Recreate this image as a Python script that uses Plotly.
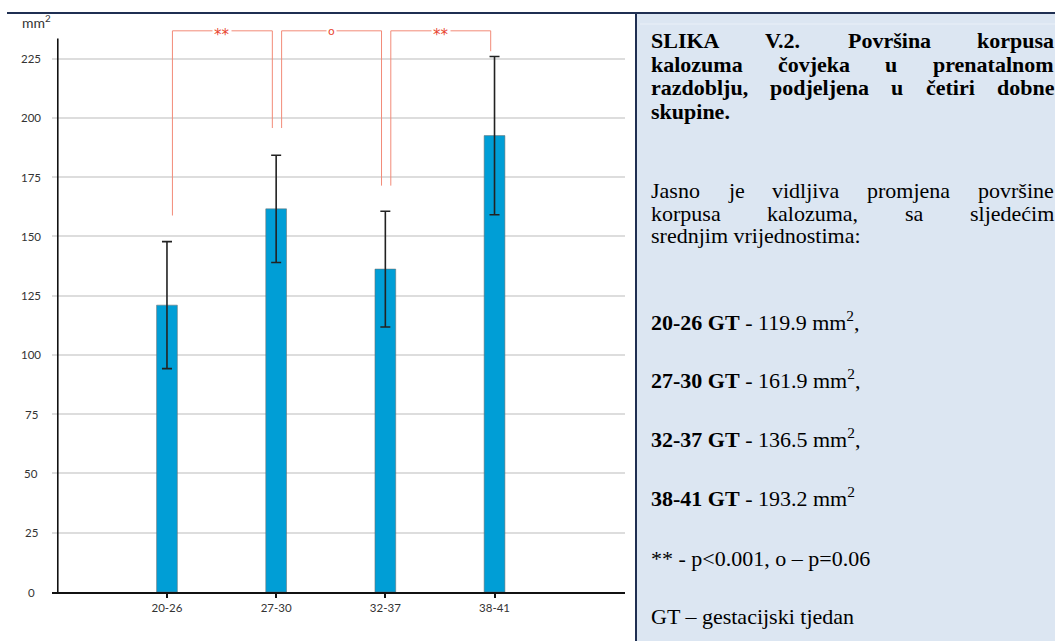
import plotly.graph_objects as go

# ---------------- data ----------------
categories = ["20-26", "27-30", "32-37", "38-41"]
mean_area = [121.0, 161.6, 136.2, 192.5]
sd_area = [26.8, 22.6, 24.4, 33.4]
y_ticks = [0, 25, 50, 75, 100, 125, 150, 175, 200, 225]

# significance brackets: (left category index, right category index, label)
bracket_pairs = [(0, 1), (1, 2), (2, 3)]
bracket_labels = ["**", "o", "**"]
bracket_left_bottom = [158.8, 195.7, 171.4]
bracket_right_bottom = [195.7, 171.4, 228.1]
bracket_top = 236.7

# caption text
title_lines = [["SLIKA", "V.2.", "Površina", "korpusa"],
               ["kalozuma", "čovjeka", "u", "prenatalnom"],
               ["razdoblju,", "podjeljena", "u", "četiri", "dobne"]]
title_last = "skupine."
para_lines = [["Jasno", "je", "vidljiva", "promjena", "površine"],
              ["korpusa", "kalozuma,", "sa", "sljedećim"]]
para_last = "srednjim vrijednostima:"
value_groups = ["20-26 GT", "27-30 GT", "32-37 GT", "38-41 GT"]
value_texts = ["119.9", "161.9", "136.5", "193.2"]
note_sig = "** - p<0.001, o – p=0.06"
note_gt = "GT – gestacijski tjedan"

# ---------------- layout geometry ----------------
W, H = 1055, 641
L, R, T, B = 52, 625, 23, 592
Y_MAX = 240.0
X_MIN, X_MAX = -1.053, 4.195


def px_x(px):
    return (px - L) / (R - L)


def px_y(py):
    return (B - py) / (B - T)


# Times (Liberation Serif) advance widths, per 1000 em
BOLD_W = {"A": 722, "I": 389, "K": 778, "L": 667, "P": 611, "S": 556, "V": 722,
          "a": 500, "b": 556, "c": 444, "č": 444, "d": 556, "e": 444, "i": 278,
          "j": 333, "k": 556, "l": 278, "m": 833, "n": 556, "o": 500, "p": 556,
          "r": 444, "s": 389, "š": 389, "t": 333, "u": 556, "v": 500, "z": 444,
          ",": 250, ".": 250, "2": 500}
REG_W = {"J": 389, "a": 444, "c": 444, "ć": 444, "d": 500, "e": 444, "i": 278,
         "j": 278, "k": 500, "l": 278, "m": 778, "n": 500, "o": 500, "p": 500,
         "r": 333, "s": 389, "š": 389, "u": 500, "v": 500, "z": 444, ",": 250,
         ":": 278, "g": 500, "t": 278}

FS = 22
TXT_X0, TXT_X1 = 650, 1053
SERIF = "Liberation Serif, Times New Roman, serif"

fig = go.Figure()

fig.add_trace(go.Bar(
    x=categories, y=mean_area, width=0.19,
    marker=dict(color="#009ed6", line=dict(color="rgba(110,110,110,0.55)", width=1)),
    error_y=dict(type="data", array=sd_area, visible=True,
                 color="#222222", thickness=1.6, width=5),
    showlegend=False, hoverinfo="skip",
))

shapes = []
annotations = []

# right caption panel
shapes.append(dict(type="rect", xref="paper", yref="paper",
                   x0=px_x(636), x1=px_x(1065), y0=px_y(650), y1=px_y(13),
                   fillcolor="#dce6f2", line=dict(width=0), layer="below"))
shapes.append(dict(type="line", xref="paper", yref="paper",
                   x0=px_x(640), x1=px_x(1065), y0=px_y(24), y1=px_y(24),
                   line=dict(color="#eaf0f8", width=1)))
shapes.append(dict(type="line", xref="paper", yref="paper",
                   x0=px_x(7), x1=px_x(1065), y0=px_y(13), y1=px_y(13),
                   line=dict(color="#1f2f52", width=2)))
shapes.append(dict(type="line", xref="paper", yref="paper",
                   x0=px_x(636), x1=px_x(636), y0=px_y(13), y1=px_y(650),
                   line=dict(color="#1f2f52", width=2)))

# y axis line
shapes.append(dict(type="line", xref="x", yref="y", x0=-1.0, x1=-1.0, y0=0, y1=233.5,
                   line=dict(color="#111111", width=1.6)))

# significance brackets
for (i, j), lab, lb, rb in zip(bracket_pairs, bracket_labels,
                               bracket_left_bottom, bracket_right_bottom):
    xl, xr = i + 0.05, j - 0.035
    col = "#f28b78"
    shapes.append(dict(type="line", xref="x", yref="y", x0=xl, x1=xl, y0=lb, y1=bracket_top,
                       line=dict(color=col, width=1)))
    shapes.append(dict(type="line", xref="x", yref="y", x0=xr, x1=xr, y0=rb, y1=bracket_top,
                       line=dict(color=col, width=1)))
    shapes.append(dict(type="line", xref="x", yref="y", x0=xl, x1=xr, y0=bracket_top, y1=bracket_top,
                       line=dict(color=col, width=1)))
    star = lab == "**"
    annotations.append(dict(x=(xl + xr) / 2, y=bracket_top, xref="x", yref="y",
                            text=lab, showarrow=False, bgcolor="white", borderpad=1,
                            yshift=-4 if star else -1,
                            font=dict(family="DejaVu Sans, sans-serif",
                                      size=15 if star else 11, color="#e8452f")))

# y tick labels (centred)
for v in y_ticks:
    annotations.append(dict(x=px_x(31), y=v, xref="paper", yref="y", text=str(v),
                            showarrow=False, xanchor="center", yanchor="middle",
                            font=dict(family="Lato, sans-serif", size=11.5, color="#333333")))
annotations.append(dict(x=px_x(36), y=px_y(21), xref="paper", yref="paper",
                        text="mm<sup>2</sup>", showarrow=False, xanchor="center",
                        yanchor="middle",
                        font=dict(family="Lato, sans-serif", size=14, color="#333333")))


def word_w(word, table):
    return sum(table.get(c, 500) for c in word) * FS / 1000.0


def add_justified(words, y_px, bold):
    table = BOLD_W if bold else REG_W
    widths = [word_w(w, table) for w in words]
    gap = (TXT_X1 - TXT_X0 - sum(widths)) / (len(words) - 1)
    x = TXT_X0
    for w, wd in zip(words, widths):
        txt = f"<b>{w}</b>" if bold else w
        annotations.append(dict(x=px_x(x), y=px_y(y_px), xref="paper", yref="paper",
                                text=txt, showarrow=False, xanchor="left", yanchor="middle",
                                borderpad=0,
                                font=dict(family=SERIF, size=FS, color="#000000")))
        x += wd + gap


def add_line(text, y_px):
    annotations.append(dict(x=px_x(TXT_X0), y=px_y(y_px), xref="paper", yref="paper",
                            text=text, showarrow=False, xanchor="left", yanchor="middle",
                            borderpad=0,
                            font=dict(family=SERIF, size=FS, color="#000000")))


title_y = [40, 64, 88]
for words, yy in zip(title_lines, title_y):
    add_justified(words, yy, True)
add_line(f"<b>{title_last}</b>", 111)

para_y = [190, 213]
for words, yy in zip(para_lines, para_y):
    add_justified(words, yy, False)
add_line(para_last, 236)

value_y = [321, 379, 438, 497]
for k, (g, v, yy) in enumerate(zip(value_groups, value_texts, value_y)):
    tail = "," if k < len(value_groups) - 1 else ""
    add_line(f"<b>{g}</b> - {v} mm<sup>2</sup>{tail}", yy)
add_line(note_sig, 558)
add_line(note_gt, 616)

fig.update_layout(
    width=W, height=H,
    margin=dict(l=L, r=W - R, t=T, b=H - B, pad=0),
    paper_bgcolor="white", plot_bgcolor="white",
    shapes=shapes, annotations=annotations,
    xaxis=dict(type="category", categoryorder="array", categoryarray=categories,
               range=[X_MIN, X_MAX], showgrid=False, zeroline=False,
               showline=True, linecolor="#111111", linewidth=1.6,
               ticks="outside", ticklen=4, tickwidth=1.5, tickcolor="#111111",
               tickfont=dict(family="Lato, sans-serif", size=11.5, color="#333333")),
    yaxis=dict(range=[0, Y_MAX], tickvals=y_ticks, showticklabels=False,
               showgrid=True, gridcolor="#dddddd", gridwidth=1.5,
               zeroline=False, showline=False, ticks=""),
    bargap=0.8,
)

fig.write_html("out.html",
               config={"displayModeBar": False},
               post_script="document.body.style.margin='0';"
                           "document.body.style.padding='0';"
                           "document.body.style.overflow='hidden';")
